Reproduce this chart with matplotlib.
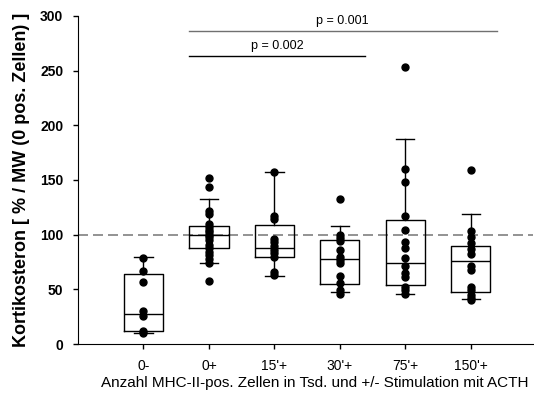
import numpy as np
import matplotlib.pyplot as plt

plt.rcParams['font.family'] = ['Liberation Sans', 'DejaVu Sans']

groups = ["0-", "0+", "15'+", "30'+", "75'+", "150'+"]

# individual values per group
pts_0m = [79, 67, 57, 30, 26, 12, 10]
pts_0p = [152, 144, 122, 119, 110, 107, 104, 102, 100, 98, 95, 91, 88, 84, 81, 78, 74, 58]
pts_15 = [157, 117, 114, 96, 93, 90, 86, 83, 80, 66, 63]
pts_30 = [133, 100, 97, 94, 86, 80, 77, 74, 62, 56, 49, 46]
pts_75 = [253, 160, 148, 117, 104, 93, 88, 79, 71, 65, 61, 52, 49, 46]
pts_150 = [159, 103, 98, 92, 87, 82, 71, 68, 52, 49, 45, 42, 40]
points = [pts_0m, pts_0p, pts_15, pts_30, pts_75, pts_150]

# box statistics (10th, 25th, median, 75th, 90th percentile)
p10 = [10, 74, 62.5, 47.6, 45.7, 41.5]
q1 = [11.6, 87.5, 79.6, 54.6, 54, 47.9]
med = [27.4, 99.7, 87.5, 77.5, 74.4, 75.6]
q3 = [64, 108, 108.8, 94.8, 113.1, 90]
p90 = [79.3, 132.6, 157.3, 108.2, 187.2, 119.2]

# significance brackets: (from, to, height, label, colour)
sig_lines = [(1.69, 4.39, 263, 'p = 0.002', 'black'),
             (1.69, 6.40, 286, 'p = 0.001', '#707070')]


def plot_kortikosteron():
    fig = plt.figure(figsize=(5.34, 3.97), dpi=100)
    ax = fig.add_axes([0.146, 0.1335, 0.852, 0.8262])

    ax.axhline(100, color='#808080', lw=1.2, ls=(0, (6, 3)), zorder=1)

    stats = []
    for i in range(len(groups)):
        stats.append(dict(whislo=p10[i], q1=q1[i], med=med[i], q3=q3[i],
                          whishi=p90[i], fliers=[]))
    pos = np.arange(1, len(groups) + 1)
    ax.bxp(stats, positions=pos, widths=0.6, showfliers=False,
           boxprops=dict(color='black', lw=1.0),
           medianprops=dict(color='black', lw=1.0),
           whiskerprops=dict(color='black', lw=1.0),
           capprops=dict(color='black', lw=1.0), capwidths=0.28,
           manage_ticks=False, zorder=2)

    for p, vals in zip(pos, points):
        ax.plot(np.full(len(vals), p), vals, 'ko', ms=5, zorder=3)

    for x0, x1, h, label, c in sig_lines:
        ax.plot([x0, x1], [h, h], color=c, lw=1.0)
        ax.text((x0 + x1) / 2, h + 4, label, ha='center', va='bottom', fontsize=9)

    ax.set_xlim(0, 6.95)
    ax.set_ylim(0, 300)
    ax.set_xticks(pos)
    ax.set_xticklabels(groups, fontsize=10)
    ax.set_yticks(np.arange(0, 301, 50))
    ax.set_yticklabels([str(v) for v in range(0, 301, 50)], fontsize=10, fontweight='bold')
    ax.tick_params(direction='out', length=3.6, width=1)
    ax.tick_params(axis='y', pad=7)
    ax.tick_params(axis='x', pad=7)
    for s in ['top', 'right']:
        ax.spines[s].set_visible(False)
    ax.set_xlabel('Anzahl MHC-II-pos. Zellen in Tsd. und +/- Stimulation mit ACTH',
                  fontsize=11, labelpad=2, x=0.52)
    ax.set_ylabel('Kortikosteron [ % / MW (0 pos. Zellen) ]', fontsize=13, fontweight='bold', labelpad=7)

    fig.savefig('out.png', dpi=100)


if __name__ == "__main__":
    plot_kortikosteron()
